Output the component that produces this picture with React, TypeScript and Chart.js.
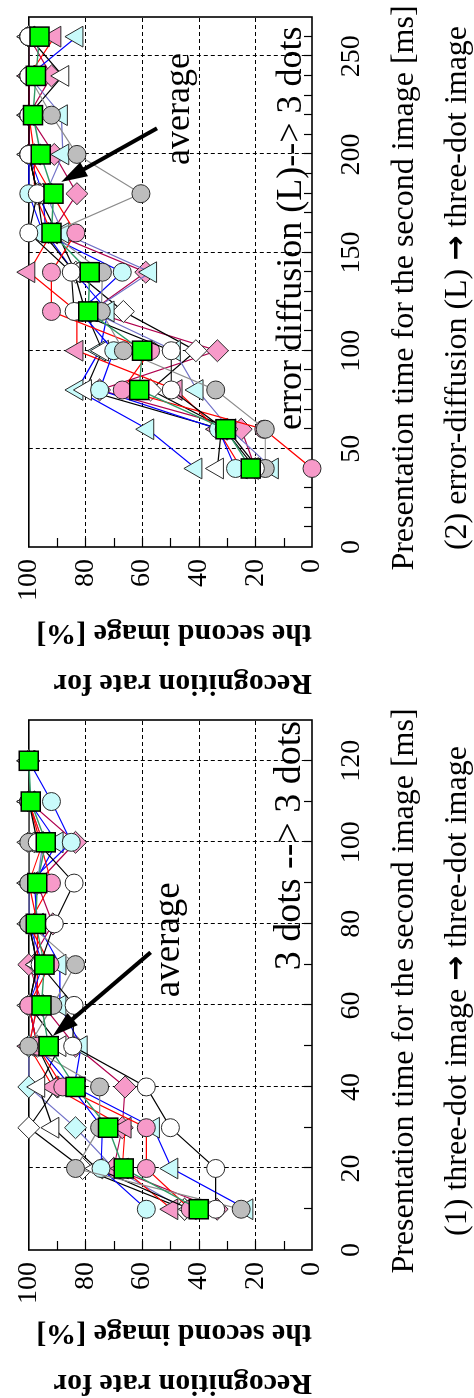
import React, { useEffect, useRef } from 'react';
import { Chart, registerables } from 'chart.js';

Chart.register(...registerables);

const FONT = '"Liberation Serif", "Times New Roman", Times, serif';
const ARROW_FONT = '"DejaVu Sans", sans-serif';
Chart.defaults.font.family = FONT;
Chart.defaults.color = '#000';

// ---------- shared axis text ----------
const yTicks = [0, 20, 40, 60, 80, 100];
const yTitle = ['Recognition rate for', 'the second image [%]'];
const xTitle = 'Presentation time for the second image [ms]';
const arrowGlyph = '\u2192';

// ---------- panel (1): three-dot image -> three-dot image ----------
const times1 = [10, 20, 30, 40, 50, 60, 70, 80, 90, 100, 110, 120];
const xTicks1 = [0, 20, 40, 60, 80, 100, 120];
const average1 = [40, 66.5, 72, 83.5, 93, 95.5, 94.5, 97.5, 97, 94, 99.3, 100];
const whiteCircle1 = [34, 34, 50, 58.5, 84.5, 84, 96, 91, 84, 97, 100, 100];
const grayCircle1 = [25, 83.5, 75, 75, 100, 91.5, 83.5, 100, 100, 100, 100, 100];
const pinkCircle1 = [43, 58.5, 58.5, 88, 97, 100, 92.5, 100, 92, 96, 100, 100];
const cyanCircle1 = [58.5, 74.5, 74, 85, 97, 100, 95, 100, 100, 85, 92, 100];
const whiteTriangle1 = [43, 76, 91.5, 96.5, 89, 100, 97, 100, 100, 100, 100, 100];
const pinkTriangle1 = [49.5, 67, 66, 91.5, 100, 97, 97, 97, 100, 95, 100, 100];
const cyanTriangle1 = [23, 49.5, 56, 84, 81.5, 89, 89, 97, 98, 90, 100, 100];
const whiteDiamond1 = [45, 81, 100, 90, 97, 100, 97, 100, 100, 100, 100, 100];
const pinkDiamond1 = [33.5, 70, 67, 66, 83.5, 95, 100, 91.5, 97, 83.5, 100, 100];
const cyanDiamond1 = [45, 70, 83.5, 100, 100, 97, 98, 98, 97, 95, 100, 100];
const caption1: [string, string] = ['(1) three-dot image ', ' three-dot image'];
const note1 = '3 dots --> 3 dots';

// ---------- panel (2): error-diffusion (L) -> three-dot image ----------
const times2 = [40, 60, 80, 100, 120, 140, 160, 180, 200, 220, 240, 260];
const xTicks2 = [0, 50, 100, 150, 200, 250];
const average2 = [21.6, 30.5, 61, 60, 79, 78.5, 92, 91.3, 95.8, 98.5, 97.5, 96.2];
const whiteCircle2 = [20, 31, 49.7, 49.7, 84, 85, 100, 97, 100, 100, 100, 100];
const grayCircle2 = [16.5, 16.5, 34, 66.6, 74.4, 74, 92, 60.4, 83, 92, 100, 100];
const pinkCircle2 = [0, 17, 67, 57, 92, 92, 83.4, 92, 100, 100, 100, 100];
const cyanCircle2 = [27, 33, 75, 70, 82, 67, 95, 100, 100, 100, 100, 100];
const whiteTriangle2 = [33.4, 32, 80, 74, 80, 84, 95, 97, 100, 100, 88, 100];
const pinkTriangle2 = [25, 33.4, 48, 83, 83, 100, 92, 98, 98, 100, 100, 90.8];
const cyanTriangleA2 = [41, 58, 83, 75, 72, 84, 94, 95, 100, 100, 100, 83];
const cyanTriangleB2 = [14, 29, 40.6, 48.6, 78, 57, 88, 94, 88, 88.5, 100, 100];
const whiteDiamond2 = [19, 30, 57, 41, 66.6, 83.4, 90, 97, 100, 100, 100, 100];
const pinkDiamond2 = [20, 25, 75, 33.4, 78, 58.7, 92, 83, 91, 100, 92, 100];
const caption2: [string, string] = ['(2) error-diffusion (L) ', ' three-dot image'];
const note2 = 'error diffusion (L)--> 3 dots';
const averageLabel = 'average';

// ---------- styles ----------
const PINK = '#f79ac9';
const CYAN = '#c9fbfb';
const GRAY = '#bdbdbd';
const WHITE = '#ffffff';
const GREEN = '#00ff00';

type Style = { shape: string; fill: string; line: string; radius: number };
const STYLES: Record<string, Style> = {
  average: { shape: 'rect', fill: GREEN, line: '#2f9a66', radius: 13.5 },
  whiteCircle: { shape: 'circle', fill: WHITE, line: '#000000', radius: 9 },
  grayCircle: { shape: 'circle', fill: GRAY, line: '#8c8c8c', radius: 9 },
  pinkCircle: { shape: 'circle', fill: PINK, line: '#ff0000', radius: 9 },
  cyanCircle: { shape: 'circle', fill: CYAN, line: '#0000ff', radius: 9 },
  whiteTriangle: { shape: 'triangle', fill: WHITE, line: '#000000', radius: 12 },
  pinkTriangle: { shape: 'triangle', fill: PINK, line: '#ff0000', radius: 12 },
  cyanTriangle: { shape: 'triangle', fill: CYAN, line: '#0000ff', radius: 12 },
  cyanTriangleB: { shape: 'triangle', fill: CYAN, line: '#7272c8', radius: 12 },
  whiteDiamond: { shape: 'rectRot', fill: WHITE, line: '#000000', radius: 11 },
  pinkDiamond: { shape: 'rectRot', fill: PINK, line: '#b0004e', radius: 11 },
  cyanDiamond: { shape: 'rectRot', fill: CYAN, line: '#7272c8', radius: 11 },
};

type PanelSpec = {
  times: number[];
  xMax: number;
  xTicks: number[];
  series: [string, number[]][];
  width: number;
  yScaleWidth: number;
  padRight: number;
  padTop: number;
  caption: [string, string];
  texts: { text: string; x: number; y: number; size: number }[];
  arrow: { from: [number, number]; to: [number, number] };
  shiftY: number;
};

const panel1: PanelSpec = {
  times: times1,
  xMax: 130,
  xTicks: xTicks1,
  series: [
    ['average', average1],
    ['whiteCircle', whiteCircle1],
    ['grayCircle', grayCircle1],
    ['pinkCircle', pinkCircle1],
    ['cyanCircle', cyanCircle1],
    ['whiteTriangle', whiteTriangle1],
    ['pinkTriangle', pinkTriangle1],
    ['cyanTriangle', cyanTriangle1],
    ['whiteDiamond', whiteDiamond1],
    ['pinkDiamond', pinkDiamond1],
    ['cyanDiamond', cyanDiamond1],
  ],
  width: 700,
  yScaleWidth: 148,
  padRight: 22,
  padTop: 18,
  caption: caption1,
  texts: [
    { text: averageLabel, x: 62, y: 47, size: 37 },
    { text: note1, x: 68.6, y: 4.1, size: 38 },
  ],
  arrow: { from: [73, 57], to: [52.5, 91.5] },
  shiftY: 1398,
};

const panel2: PanelSpec = {
  times: times2,
  xMax: 270,
  xTicks: xTicks2,
  series: [
    ['average', average2],
    ['whiteCircle', whiteCircle2],
    ['grayCircle', grayCircle2],
    ['pinkCircle', pinkCircle2],
    ['cyanCircle', cyanCircle2],
    ['whiteTriangle', whiteTriangle2],
    ['pinkTriangle', pinkTriangle2],
    ['cyanTriangle', cyanTriangleA2],
    ['cyanTriangleB', cyanTriangleB2],
    ['whiteDiamond', whiteDiamond2],
    ['pinkDiamond', pinkDiamond2],
  ],
  width: 698,
  yScaleWidth: 151,
  padRight: 17,
  padTop: 16,
  caption: caption2,
  texts: [
    { text: averageLabel, x: 194.6, y: 43.4, size: 36 },
    { text: note2, x: 59.6, y: 4.05, size: 36 },
  ],
  arrow: { from: [213.3, 54.7], to: [186, 88.5] },
  shiftY: 698,
};

function framePlugin(spec: PanelSpec) {
  return {
    id: 'frame',
    beforeDatasetsDraw(chart: any) {
      const { ctx, chartArea: a, scales } = chart;
      const x = scales.x;
      const y = scales.y;
      ctx.save();
      ctx.strokeStyle = '#000';
      ctx.lineWidth = 1;
      ctx.setLineDash([4, 3]);
      const line = (x1: number, y1: number, x2: number, y2: number) => {
        ctx.beginPath();
        ctx.moveTo(x1, y1);
        ctx.lineTo(x2, y2);
        ctx.stroke();
      };
      spec.xTicks.forEach((v) => {
        if (v <= 0) return;
        const px = Math.round(x.getPixelForValue(v)) + 0.5;
        line(px, a.top, px, a.bottom);
      });
      yTicks.forEach((v) => {
        if (v <= 0 || v >= 100) return;
        const py = Math.round(y.getPixelForValue(v)) + 0.5;
        line(a.left, py, a.right, py);
      });
      ctx.setLineDash([]);
      ctx.lineWidth = 1.2;
      for (let v = 10; v < spec.xMax; v += 10) {
        const px = Math.round(x.getPixelForValue(v)) + 0.5;
        line(px, a.bottom, px, a.bottom - 8);
      }
      for (let v = 10; v < 100; v += 10) {
        const py = Math.round(y.getPixelForValue(v)) + 0.5;
        line(a.left, py, a.left + 9, py);
      }
      ctx.lineWidth = 1.6;
      ctx.strokeRect(a.left, a.top, a.right - a.left, a.bottom - a.top);
      ctx.restore();
    },
    afterDatasetsDraw(chart: any) {
      const { ctx, chartArea: a, scales } = chart;
      const x = scales.x;
      const y = scales.y;
      ctx.save();
      ctx.fillStyle = '#000';
      ctx.strokeStyle = '#000';
      ctx.textBaseline = 'alphabetic';
      ctx.textAlign = 'left';
      spec.texts.forEach((t) => {
        ctx.font = `${t.size}px ${FONT}`;
        ctx.fillText(t.text, x.getPixelForValue(t.x), y.getPixelForValue(t.y));
      });
      // pointer arrow
      const x1 = x.getPixelForValue(spec.arrow.from[0]);
      const y1 = y.getPixelForValue(spec.arrow.from[1]);
      const x2 = x.getPixelForValue(spec.arrow.to[0]);
      const y2 = y.getPixelForValue(spec.arrow.to[1]);
      const ang = Math.atan2(y2 - y1, x2 - x1);
      const c = Math.cos(ang);
      const s = Math.sin(ang);
      const headLen = 26;
      const headW = 8;
      const bx = x2 - headLen * c;
      const by = y2 - headLen * s;
      ctx.lineWidth = 4;
      ctx.beginPath();
      ctx.moveTo(x1, y1);
      ctx.lineTo(bx + c * 2, by + s * 2);
      ctx.stroke();
      ctx.beginPath();
      ctx.moveTo(x2, y2);
      ctx.lineTo(bx + headW * s, by - headW * c);
      ctx.lineTo(bx - headW * s, by + headW * c);
      ctx.closePath();
      ctx.fill();
      // x-axis title
      ctx.font = `32px ${FONT}`;
      ctx.textAlign = 'center';
      const cx = (a.left + a.right) / 2 - 6;
      ctx.fillText(xTitle, cx, a.bottom + 101);
      // caption: text, bold arrow, text
      ctx.textAlign = 'left';
      const textFont = `32px ${FONT}`;
      const arrowFont = `bold 30px ${ARROW_FONT}`;
      ctx.font = textFont;
      const w1 = ctx.measureText(spec.caption[0]).width;
      const w3 = ctx.measureText(spec.caption[1]).width;
      ctx.font = arrowFont;
      const w2 = ctx.measureText(arrowGlyph).width;
      let px = cx - (w1 + w2 + w3) / 2;
      const base = a.bottom + 154;
      ctx.font = textFont;
      ctx.fillText(spec.caption[0], px, base);
      px += w1;
      ctx.font = arrowFont;
      ctx.fillText(arrowGlyph, px, base - 1);
      px += w2;
      ctx.font = textFont;
      ctx.fillText(spec.caption[1], px, base);
      ctx.restore();
    },
  };
}

function buildConfig(spec: PanelSpec): any {
  return {
    type: 'line',
    data: {
      datasets: spec.series.map(([key, values]) => {
        const st = STYLES[key];
        return {
          label: key,
          data: spec.times.map((t, i) => ({ x: t, y: values[i] })),
          borderColor: st.line,
          borderWidth: key === 'average' ? 1.4 : 1.2,
          pointStyle: st.shape,
          pointRadius: st.radius,
          pointBackgroundColor: st.fill,
          pointBorderColor: key === 'average' ? '#000' : '#2a2a2a',
          pointBorderWidth: key === 'average' ? 1.5 : 1,
          tension: 0,
          fill: false,
          clip: false,
        };
      }),
    },
    options: {
      responsive: false,
      animation: false,
      events: [],
      layout: { padding: { left: 0, right: spec.padRight, top: spec.padTop, bottom: 0 } },
      plugins: { legend: { display: false }, tooltip: { enabled: false }, title: { display: false } },
      scales: {
        x: {
          type: 'linear',
          position: 'bottom',
          min: 0,
          max: spec.xMax,
          grid: { display: false, drawTicks: false },
          border: { display: false },
          afterBuildTicks: (scale: any) => {
            scale.ticks = spec.xTicks.map((v) => ({ value: v }));
          },
          afterFit: (scale: any) => {
            scale.height = 162;
          },
          ticks: {
            autoSkip: false,
            maxRotation: 0,
            padding: 23,
            color: '#000',
            font: { size: 28, family: FONT },
            callback: (v: any) => String(v),
          },
        },
        y: {
          type: 'linear',
          position: 'left',
          min: 0,
          max: 100,
          grid: { display: false, drawTicks: false },
          border: { display: false },
          afterBuildTicks: (scale: any) => {
            scale.ticks = yTicks.map((v) => ({ value: v }));
          },
          afterFit: (scale: any) => {
            scale.width = spec.yScaleWidth;
          },
          ticks: {
            autoSkip: false,
            padding: 12,
            color: '#000',
            font: { size: 28, family: FONT },
            callback: (v: any) => String(v),
          },
          title: {
            display: true,
            text: yTitle,
            align: 'start',
            color: '#000',
            font: { size: 30, weight: 'bold', family: FONT, lineHeight: '50px' },
            padding: { top: -10, bottom: 0 },
          },
        },
      },
    },
    plugins: [framePlugin(spec)],
  };
}

function Panel({ spec }: { spec: PanelSpec }) {
  const ref = useRef<HTMLCanvasElement>(null);
  useEffect(() => {
    const chart = new Chart(ref.current as HTMLCanvasElement, buildConfig(spec));
    return () => chart.destroy();
  }, [spec]);
  return (
    <canvas
      ref={ref}
      width={spec.width}
      height={474}
      style={{
        position: 'absolute',
        left: 0,
        top: 0,
        width: spec.width,
        height: 474,
        transformOrigin: '0 0',
        transform: `translate(0px, ${spec.shiftY}px) rotate(-90deg)`,
      }}
    />
  );
}

export default function App() {
  return (
    <div
      style={{
        position: 'absolute',
        left: 0,
        top: 0,
        width: 474,
        height: 1398,
        overflow: 'hidden',
        background: '#fff',
      }}
    >
      <Panel spec={panel2} />
      <Panel spec={panel1} />
    </div>
  );
}
